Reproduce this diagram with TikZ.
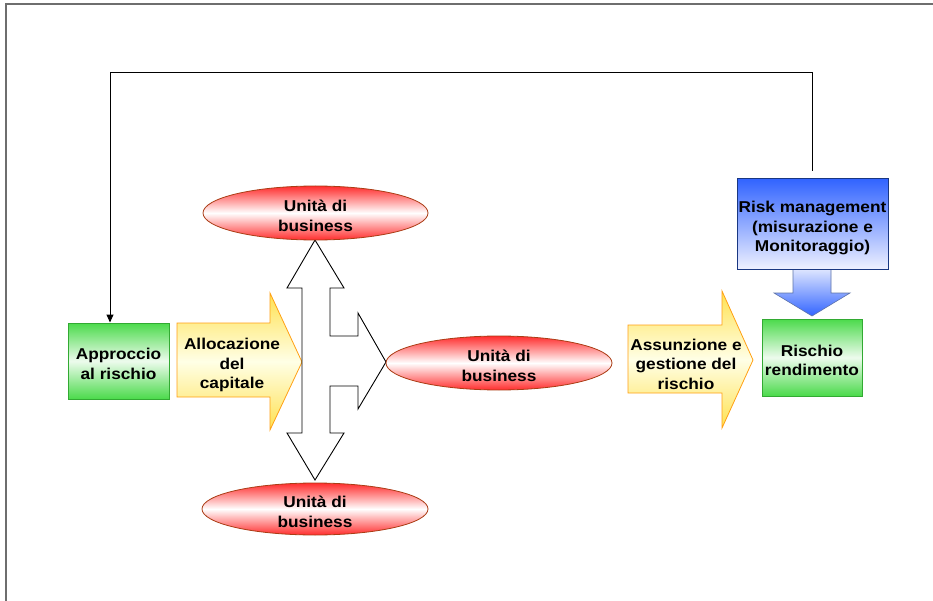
\documentclass[tikz,border=0pt]{standalone}
\usepackage{fontspec}
\setmainfont{Liberation Sans}[FakeStretch=1.1]
\usetikzlibrary{shapes.geometric,arrows.meta}

\definecolor{grnfill}{RGB}{75,218,75}
\definecolor{grnline}{RGB}{50,170,50}
\definecolor{ylwfill}{RGB}{255,225,80}
\definecolor{ylwpale}{RGB}{255,255,230}
\definecolor{ylwline}{RGB}{255,160,20}
\definecolor{redfill}{RGB}{255,45,45}
\definecolor{redline}{RGB}{170,60,20}
\definecolor{blufill}{RGB}{50,100,255}
\definecolor{blupale}{RGB}{240,242,255}
\definecolor{bluline}{RGB}{25,55,130}
\definecolor{framegray}{RGB}{110,110,110}

\tikzset{
  lbl/.style={font=\fontsize{15.7}{19.5}\selectfont\bfseries, align=center, text=black, inner sep=0pt},
  greenbox/.style={rectangle, draw=grnline, line width=1pt,
    top color=grnfill, bottom color=grnfill, middle color=grnfill!10!white,
    minimum width=101pt, minimum height=76pt, inner sep=0pt},
  unitoval/.style={ellipse, draw=redline, line width=0.8pt,
    top color=redfill, bottom color=redfill, middle color=white,
    minimum width=225pt, minimum height=54pt, inner sep=0pt},
  bluebox/.style={rectangle, draw=bluline, line width=1pt,
    top color=blufill, bottom color=blupale,
    minimum width=151pt, minimum height=91pt, inner sep=0pt},
  yellowarrow/.style={draw=ylwline, line width=0.8pt,
    top color=ylwfill, bottom color=ylwfill, middle color=ylwpale},
  crossarrow/.style={draw=black, fill=white, line width=0.9pt, line join=miter},
  feedback/.style={draw=black, line width=1pt, -{Triangle[length=8pt,width=7pt]}},
}

\begin{document}
\begin{tikzpicture}[x=1pt, y=-1pt]
  \useasboundingbox (0,0) rectangle (933,601);

  % page frame (top and left edges)
  \draw[framegray, line width=1.4pt] (933,4) -- (6,4) -- (6,601);

  % green boxes
  \node[greenbox] (appr) at (118.5,361) {};
  \node[lbl] (appr-t) at ([yshift=-3pt]appr.center) {Approccio\\al rischio};
  \node[greenbox, minimum width=100pt, minimum height=77pt] (rend) at (812,357.5) {};
  \node[lbl] (rend-t) at ([yshift=-3pt]rend.center) {Rischio\\rendimento};

  % risk management box with its downward arrow
  \shade[top color=blupale!60!blufill!40, bottom color=blufill]
    (793,270) -- (831,270) -- (831,293) -- (850,293) -- (812,316) -- (774,293) -- (793,293) -- cycle;
  \draw[bluline!70, line width=0.6pt]
    (793,270) -- (793,293) -- (774,293) -- (812,316) -- (850,293) -- (831,293) -- (831,270);
  \node[bluebox] (rm) at (812.5,224.5) {};
  \node[lbl] (rm-t) at ([yshift=-3.5pt]rm.center) {Risk management\\(misurazione e\\Monitoraggio)};

  % feedback connector from risk management back to the approach box
  \coordinate (fbstart) at (812,171);
  \coordinate (fbtop) at (110,73);
  \draw[feedback] (fbstart) |- (fbtop) -- (fbtop |- appr.north);

  % yellow block arrows
  \shadedraw[yellowarrow]
    (177,323) -- (270,323) -- (270,293) -- (302,362) -- (270,430) -- (270,397) -- (177,397) -- cycle;
  \node[lbl] (alloc) at (232,365) {Allocazione\\del\\capitale};

  \shadedraw[yellowarrow]
    (628,325) -- (722,325) -- (722,291) -- (753,360) -- (722,428) -- (722,393) -- (628,393) -- cycle;
  \node[lbl] (assun) at (686,364) {Assunzione e\\gestione del\\rischio};

  % three-way distribution arrow
  \draw[crossarrow]
    (315,240) -- (344,288) -- (330,288) -- (330,336) -- (358,336) -- (358,313) -- (386,362)
    -- (358,409) -- (358,386) -- (330,386) -- (330,433) -- (344,433) -- (315,480)
    -- (287,433) -- (302,433) -- (302,288) -- (287,288) -- cycle;

  % business units
  \node[unitoval] (bu1) at (315.5,213) {};
  \node[lbl] (bu1-t) at ([yshift=-3pt]bu1.center) {Unità di\\business};
  \node[unitoval, minimum width=226pt] (bu2) at (499,363) {};
  \node[lbl] (bu2-t) at ([yshift=-3pt]bu2.center) {Unità di\\business};
  \node[unitoval, minimum width=226pt, minimum height=52pt] (bu3) at (315,509) {};
  \node[lbl] (bu3-t) at ([yshift=-3pt]bu3.center) {Unità di\\business};
\end{tikzpicture}
\end{document}
